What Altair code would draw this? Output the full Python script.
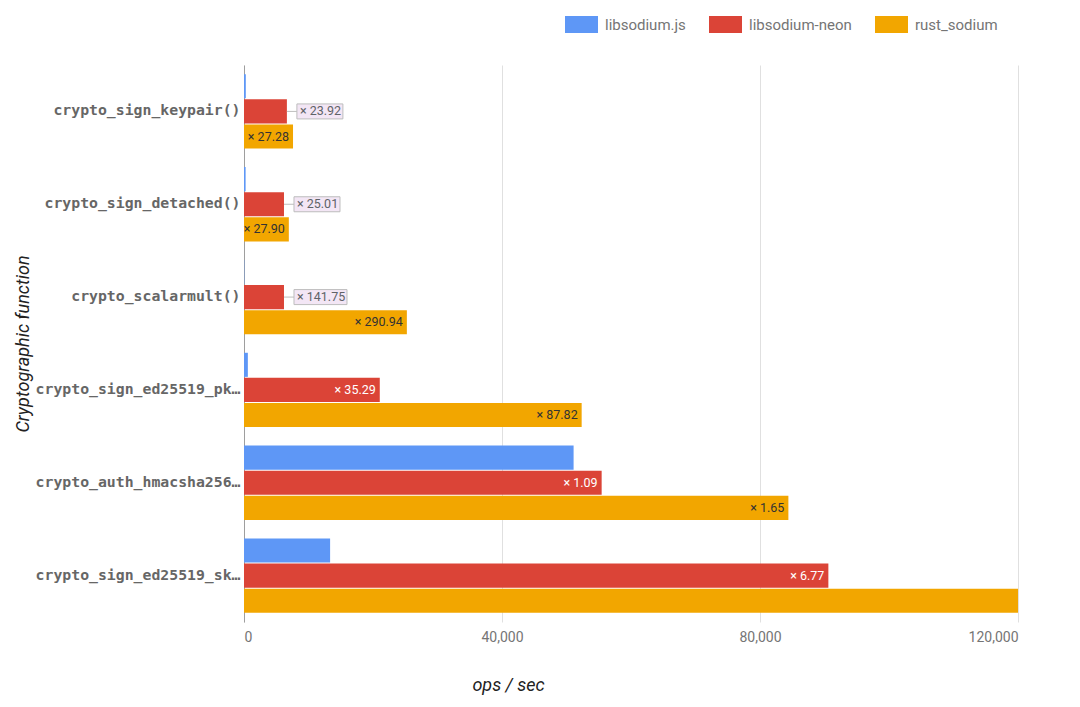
import altair as alt
import pandas as pd

functions = [
    "crypto_sign_keypair()",
    "crypto_sign_detached()",
    "crypto_scalarmult()",
    "crypto_sign_ed25519_pk_to_curve25519()",
    "crypto_auth_hmacsha256()",
    "crypto_sign_ed25519_sk_to_curve25519()",
]
series_names = ["libsodium.js", "libsodium-neon", "rust_sodium"]
libsodium_js = [280, 250, 45, 597, 51100, 13350]
libsodium_neon = [6650, 6200, 6200, 21050, 55450, 90600]
rust_sodium = [7600, 6950, 25250, 52350, 84400, 120000]
neon_labels = ["× 23.92", "× 25.01", "× 141.75", "× 35.29", "× 1.09", "× 6.77"]
rust_labels = ["× 27.28", "× 27.90", "× 290.94", "× 87.82", "× 1.65", ""]
colors = ["#5e97f6", "#db4437", "#f2a600"]

rows = []
for i, f in enumerate(functions):
    for s, vals, labs in [
        ("libsodium.js", libsodium_js, [""] * len(functions)),
        ("libsodium-neon", libsodium_neon, neon_labels),
        ("rust_sodium", rust_sodium, rust_labels),
    ]:
        lab = labs[i]
        if not lab:
            place = "none"
        elif s == "libsodium-neon" and vals[i] < 10000:
            place = "outside"
        else:
            place = "inside"
        w = 7 * len(lab) - 3
        path = f"M0,0L10,0M10,-7.5L{10 + w},-7.5L{10 + w},7.5L10,7.5Z"
        rows.append({"function": f, "series": s, "value": vals[i], "label": lab,
                     "place": place, "path": path})
df = pd.DataFrame(rows)

y_enc = alt.Y(
    "function:N", sort=functions,
    scale=alt.Scale(paddingInner=0.2, paddingOuter=0.1),
    axis=alt.Axis(
        title="Cryptographic function", titleFont="Roboto", titleFontSize=18,
        titleFontStyle="italic", titleFontWeight="normal", titleColor="#222222",
        titlePadding=12,
        labelFont="DejaVu Sans Mono", labelFontWeight="bold", labelFontSize=14.8,
        labelColor="#666666", labelLimit=210, labelPadding=4,
        ticks=False, domainColor="#9e9e9e", grid=False,
    ),
)
yoff = alt.YOffset("series:N", sort=series_names,
                   scale=alt.Scale(paddingInner=0.04, paddingOuter=0))
x_enc = alt.X(
    "value:Q", scale=alt.Scale(domain=[0, 120000], nice=False),
    axis=alt.Axis(
        values=[0, 40000, 80000, 120000], format=",d", grid=True, gridColor="#e0e0e0",
        domain=False, ticks=False, labelFont="Roboto", labelFontSize=14,
        labelColor="#757575", labelPadding=8,
        title="ops / sec", titleFont="Roboto", titleFontSize=18,
        titleFontStyle="italic", titleFontWeight="normal", titleColor="#222222",
        titleX=264, titleY=54, titleBaseline="top",
    ),
)

base = alt.Chart(df)

bars = base.mark_bar().encode(
    x=x_enc, y=y_enc, yOffset=yoff,
    color=alt.Color(
        "series:N", sort=series_names,
        scale=alt.Scale(domain=series_names, range=colors),
        legend=alt.Legend(
            title=None, orient="none", legendX=321, legendY=-57, direction="horizontal",
            labelFont="Roboto", labelFontSize=15, labelColor="#757575",
            symbolType="M-1,-0.515L1,-0.515L1,0.515L-1,0.515Z", symbolSize=1089,
            symbolStrokeWidth=0, symbolOpacity=1, labelOffset=7, columnPadding=23,
            padding=0,
        ),
    ),
)

inside_neon = base.transform_filter(
    (alt.datum.place == "inside") & (alt.datum.series == "libsodium-neon")
).mark_text(align="right", dx=-4, font="Roboto", fontSize=12.5, color="#ffffff").encode(
    x="value:Q", y=alt.Y("function:N", sort=functions), yOffset=yoff, text="label:N"
)
inside_rust = base.transform_filter(
    (alt.datum.place == "inside") & (alt.datum.series == "rust_sodium")
).mark_text(align="right", dx=-4, font="Roboto", fontSize=12.5, color="#333333").encode(
    x="value:Q", y=alt.Y("function:N", sort=functions), yOffset=yoff, text="label:N"
)
boxes = base.transform_filter(alt.datum.place == "outside").mark_point(
    filled=True, fill="#f3e6f5", stroke="#bdbdbd", strokeWidth=1, size=4, opacity=1
).encode(
    x="value:Q", y=alt.Y("function:N", sort=functions), yOffset=yoff,
    shape=alt.Shape("path:N", scale=None),
)
outside_text = base.transform_filter(alt.datum.place == "outside").mark_text(
    align="left", dx=13, font="Roboto", fontSize=12.5, color="#5f6368"
).encode(
    x="value:Q", y=alt.Y("function:N", sort=functions), yOffset=yoff, text="label:N"
)

chart = alt.layer(bars, inside_neon, inside_rust, boxes, outside_text).properties(
    width=774, height=557,
    padding={"left": 6, "top": 0, "right": 5, "bottom": 5},
).configure_view(stroke=None)

chart.save("out.html", embed_options={"renderer": "svg", "actions": False})
